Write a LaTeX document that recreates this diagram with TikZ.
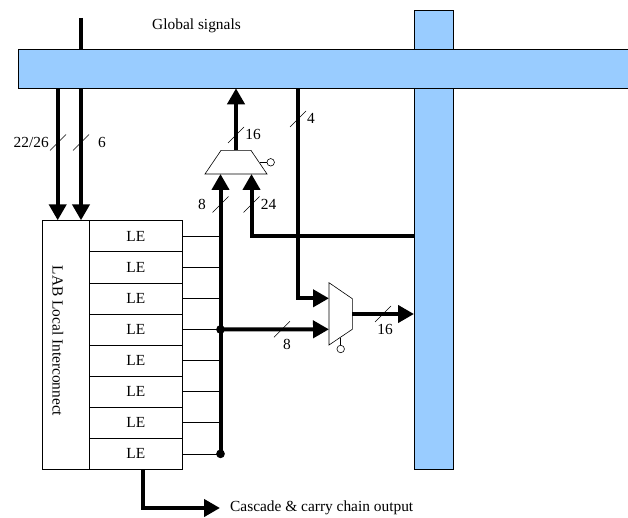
\documentclass[tikz,border=0pt]{standalone}
\usepackage{fontspec}
\setmainfont{Liberation Serif}
\usetikzlibrary{positioning,arrows.meta,calc}
\definecolor{busblue}{RGB}{153,204,255}
\tikzset{
  bus/.style={fill=busblue,draw=black,line width=.7pt},
  thickbus/.style={line width=4pt},
  busarrow/.style={thickbus,-{Triangle[length=16pt,width=17pt]}},
  lebox/.style={draw=black,line width=.6pt,minimum width=93pt,minimum height=31.1pt,inner sep=0pt,font=\fontsize{15.4}{18}\selectfont},
  tap/.style={line width=.6pt},
  slash/.style={line width=.6pt},
  lbl/.style={font=\fontsize{15.4}{18}\selectfont,inner sep=0pt},
  muxbody/.style={draw=black,fill=white,line width=.6pt},
  inv/.style={draw=black,fill=white,line width=.6pt,circle,minimum size=7.5pt,inner sep=0pt},
  dot/.style={fill=black,circle,minimum size=8.7pt,inner sep=0pt}
}
\newcommand{\busslash}[1]{\draw[slash] ($(#1)+(-8,8)$) -- ($(#1)+(8,-8)$);}
\begin{document}
\begin{tikzpicture}[x=1pt,y=-1pt]
  \useasboundingbox (0,0) rectangle (628,518);
  % buses
  \draw[bus] (414,10.3) rectangle (453.5,469.3);
  \draw[bus] (18.7,49.5) rectangle (635,88.3);
  \coordinate (topin) at (81,18);
  \coordinate (topbus) at (81,49.5);
  \draw[thickbus] (topin) -- (topbus);
  % LAB block
  \node[draw=black,line width=.6pt,minimum width=46.7pt,minimum height=249pt,inner sep=0pt,anchor=north west] (lab) at (42.2,220.3) {};
  \node[lbl,rotate=-90] (labtext) at (58,341) {LAB Local Interconnect};
  \foreach \i in {1,...,8} {
    \node[lebox,anchor=north west] (le\i) at (89,{220.3+(\i-1)*31.1}) {LE};
  }
  % vertical collect line
  \coordinate (collect) at (220.5,469);
  \foreach \i in {1,...,8} {
    \draw[tap] (le\i.east) -- (le\i.east -| collect);
  }
  \node[dot] (djoin) at (le4.east -| collect) {};
  \node[dot] (dend) at (le8.east -| collect) {};
  % upper mux
  \draw[muxbody] (205,174) -- (221,150.4) -- (251,150.4) -- (267,174) -- cycle;
  \coordinate (muxtop) at (236,150.4);
  \coordinate (muxa) at (220.5,174);
  \coordinate (muxb) at (251.5,174);
  \node[inv] (invtop) at (270.7,162.3) {};
  \draw[tap] (260,162.3) -- (invtop);
  % lower mux
  \draw[muxbody] (329,282.7) -- (352.3,298.7) -- (352.3,329.3) -- (329,345) -- cycle;
  \coordinate (lowa) at (329,298.3);
  \coordinate (lowb) at (329,329.3);
  \coordinate (lowout) at (352.3,314);
  \node[inv] (invlow) at (340.7,349) {};
  \draw[tap] (340.7,337.5) -- (invlow);
  % thick connectors
  \coordinate (in1top) at (57.7,88.3);
  \coordinate (in2top) at (81,88.3);
  \draw[busarrow] (in1top) -- (in1top |- lab.north);
  \draw[busarrow] (in2top) -- (in2top |- lab.north);
  \draw[busarrow] (muxtop) -- (236,88.3);
  \draw[busarrow] (dend.center) -- (muxa);
  \draw[busarrow] (414,236) -| (muxb);
  \draw[busarrow] (298,88.3) |- (lowa);
  \draw[busarrow] (djoin.center) -- (lowb);
  \draw[busarrow] (lowout) -- (414,314);
  % output
  \coordinate (cascade) at (143.3,469);
  \coordinate (cascadeout) at (220,508);
  \draw[busarrow] (cascade) |- (cascadeout);
  % slashes
  \coordinate (s1) at (58,142.5); \busslash{s1}
  \coordinate (s2) at (81,142.5); \busslash{s2}
  \coordinate (s3) at (236,135); \busslash{s3}
  \coordinate (s4) at (220.5,204.5); \busslash{s4}
  \coordinate (s5) at (251.5,204.5); \busslash{s5}
  \coordinate (s6) at (298,119); \busslash{s6}
  \coordinate (s7) at (282,329.3); \busslash{s7}
  \coordinate (s8) at (383,314); \busslash{s8}
  % labels
  \node[lbl] (tglobal) at (196.5,26) {Global signals};
  \node[lbl,anchor=east] (t2226) at (49,142) {22/26};
  \node[lbl] (t6) at (102,142) {6};
  \node[lbl] (t16a) at (253,134) {16};
  \node[lbl] (t4) at (311,118) {4};
  \node[lbl] (t8a) at (202,204) {8};
  \node[lbl] (t24) at (268.5,204) {24};
  \node[lbl] (t8b) at (287,344) {8};
  \node[lbl] (t16b) at (385,329) {16};
  \node[lbl,anchor=west] (tcascade) at (230,508) {Cascade \& carry chain output};
\end{tikzpicture}
\end{document}
